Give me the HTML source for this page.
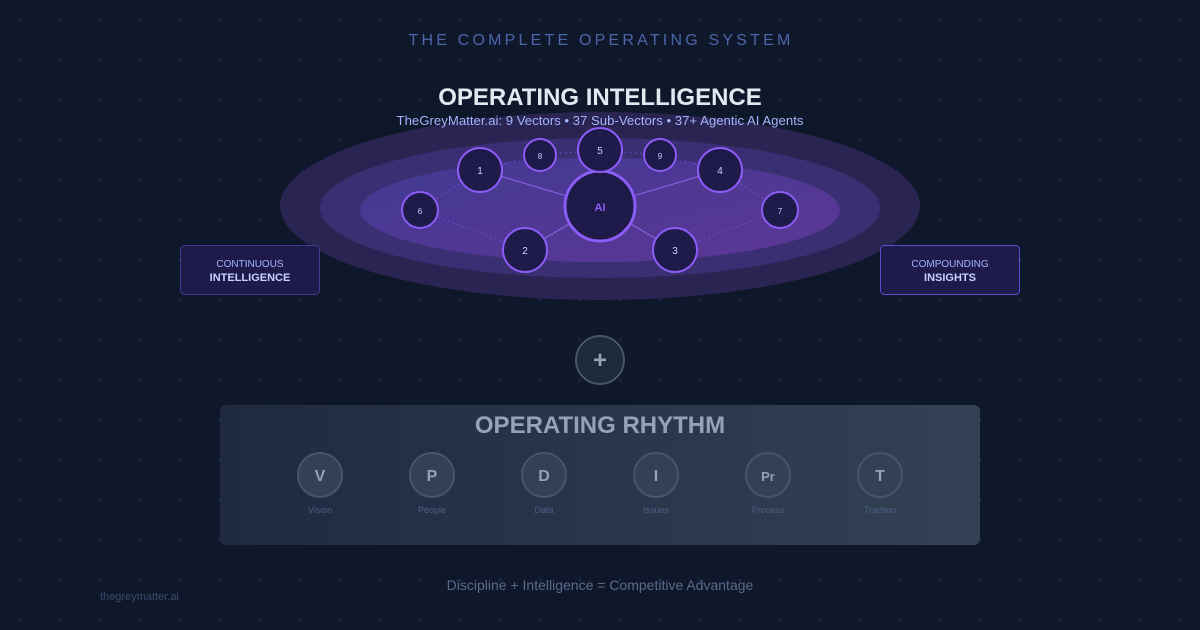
<!DOCTYPE html>
<html><head><meta charset="utf-8"><style>
html,body{margin:0;padding:0;width:1200px;height:630px;overflow:hidden;background:#0f172a;font-family:"Liberation Sans",sans-serif}
</style></head><body>
<svg width="1200" height="630" xmlns="http://www.w3.org/2000/svg" font-family="Liberation Sans, sans-serif">
<defs>
<pattern id="dots" width="40" height="40" patternUnits="userSpaceOnUse"><circle cx="20" cy="20" r="1.5" fill="#1e2a44"/></pattern>
<linearGradient id="inner" x1="0" y1="0" x2="1" y2="1"><stop offset="0" stop-color="#403a92"/><stop offset="1" stop-color="#5e3696"/></linearGradient>
<linearGradient id="box" x1="0" y1="0" x2="1" y2="0"><stop offset="0" stop-color="#1f2a40"/><stop offset="1" stop-color="#334155"/></linearGradient>
</defs>
<rect width="1200" height="630" fill="#0f172a"/>
<rect width="1200" height="630" fill="url(#dots)"/>
<text x="601" y="45" text-anchor="middle" fill="#4b66a8" font-size="16" letter-spacing="3.2">THE COMPLETE OPERATING SYSTEM</text>
<ellipse cx="600" cy="206" rx="320" ry="94" fill="#2a2452"/>
<ellipse cx="600" cy="208" rx="280" ry="70" fill="#3a2f72"/>
<ellipse cx="600" cy="210" rx="240" ry="52" fill="url(#inner)"/>
<text x="600" y="105" text-anchor="middle" fill="#e2e8f0" font-size="24" font-weight="bold">OPERATING INTELLIGENCE</text>
<text x="600" y="125" text-anchor="middle" fill="#a5b4fc" font-size="13.2">TheGreyMatter.ai: 9 Vectors • 37 Sub-Vectors • 37+ Agentic AI Agents</text>
<g stroke="#9b6cf6" stroke-width="1.2" opacity="0.75">
<line x1="600" y1="206" x2="600" y2="150"/><line x1="600" y1="206" x2="480" y2="170"/><line x1="600" y1="206" x2="720" y2="170"/><line x1="600" y1="206" x2="525" y2="250"/><line x1="600" y1="206" x2="675" y2="250"/>
</g>
<g stroke="#8b5cf6" stroke-width="0.8" stroke-dasharray="2 3" opacity="0.7">
<line x1="480" y1="170" x2="540" y2="155"/><line x1="540" y1="155" x2="600" y2="150"/><line x1="600" y1="150" x2="660" y2="155"/><line x1="660" y1="155" x2="720" y2="170"/><line x1="720" y1="170" x2="780" y2="210"/><line x1="480" y1="170" x2="420" y2="210"/><line x1="420" y1="210" x2="525" y2="250"/><line x1="780" y1="210" x2="675" y2="250"/>
</g>
<g fill="#1e1b4b" stroke="#8b5cf6" stroke-width="2">
<circle cx="600" cy="206" r="35" stroke-width="3"/>
<circle cx="600" cy="150" r="22"/><circle cx="540" cy="155" r="16"/><circle cx="660" cy="155" r="16"/>
<circle cx="480" cy="170" r="22"/><circle cx="720" cy="170" r="22"/>
<circle cx="420" cy="210" r="18"/><circle cx="780" cy="210" r="18"/>
<circle cx="525" cy="250" r="22"/><circle cx="675" cy="250" r="22"/>
</g>
<g fill="#c7d2fe" text-anchor="middle" font-size="10">
<text x="600" y="211" fill="#8b5cf6" font-weight="bold" font-size="11">AI</text>
<text x="600" y="154">5</text><text x="540" y="159" font-size="8">8</text><text x="660" y="159" font-size="8">9</text>
<text x="480" y="174">1</text><text x="720" y="174">4</text>
<text x="420" y="214" font-size="8">6</text><text x="780" y="214" font-size="8">7</text>
<text x="525" y="254">2</text><text x="675" y="254">3</text>
</g>
<rect x="180.5" y="245.5" width="139" height="49" rx="4" fill="#1e1b4b" stroke="#3f3a8f"/>
<text x="250" y="267" text-anchor="middle" fill="#a5b4fc" font-size="10">CONTINUOUS</text>
<text x="250" y="281" text-anchor="middle" fill="#c7d2fe" font-size="11" font-weight="bold">INTELLIGENCE</text>
<rect x="880.5" y="245.5" width="139" height="49" rx="4" fill="#1e1b4b" stroke="#5b4fd0"/>
<text x="950" y="267" text-anchor="middle" fill="#a5b4fc" font-size="10">COMPOUNDING</text>
<text x="950" y="281" text-anchor="middle" fill="#c7d2fe" font-size="11" font-weight="bold">INSIGHTS</text>
<circle cx="600" cy="360" r="24" fill="#1e293b" stroke="#475569" stroke-width="2"/>
<text x="600" y="368" text-anchor="middle" fill="#94a3b8" font-size="24" font-weight="bold">+</text>
<rect x="220" y="405" width="760" height="140" rx="6" fill="url(#box)"/>
<text x="600" y="433" text-anchor="middle" fill="#94a3b8" font-size="24" font-weight="bold">OPERATING RHYTHM</text>
<g fill="#334155" stroke="#475569" stroke-width="2">
<circle cx="320" cy="475" r="22"/><circle cx="432" cy="475" r="22"/><circle cx="544" cy="475" r="22"/><circle cx="656" cy="475" r="22"/><circle cx="768" cy="475" r="22"/><circle cx="880" cy="475" r="22"/>
</g>
<g fill="#94a3b8" text-anchor="middle" font-size="16" font-weight="bold">
<text x="320" y="481">V</text><text x="432" y="481">P</text><text x="544" y="481">D</text><text x="656" y="481">I</text><text x="768" y="481" font-size="13">Pr</text><text x="880" y="481">T</text>
</g>
<g fill="#4f5f85" text-anchor="middle" font-size="9">
<text x="320" y="513">Vision</text><text x="432" y="513">People</text><text x="544" y="513">Data</text><text x="656" y="513">Issues</text><text x="768" y="513">Process</text><text x="880" y="513">Traction</text>
</g>
<text x="600" y="590" text-anchor="middle" fill="#5b6b8e" font-size="14">Discipline + Intelligence = Competitive Advantage</text>
<text x="100" y="600" fill="#3a4a6c" font-size="11">thegreymatter.ai</text>
</svg>
</body></html>
